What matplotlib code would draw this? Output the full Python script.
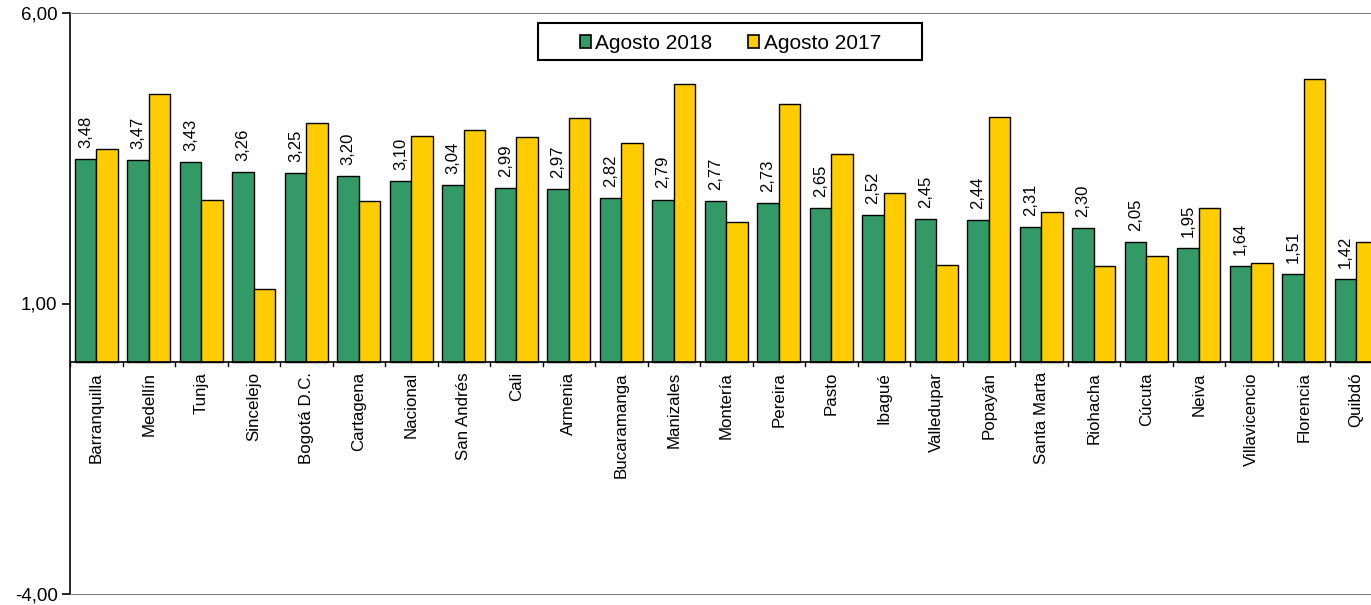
import matplotlib
matplotlib.use("Agg")
import matplotlib.pyplot as plt
from matplotlib.patches import Rectangle
import numpy as np

plt.rcParams['font.family'] = ['Liberation Sans', 'DejaVu Sans']

cities = ["Barranquilla", "Medellín", "Tunja", "Sincelejo", "Bogotá D.C.", "Cartagena",
          "Nacional", "San Andrés", "Cali", "Armenia", "Bucaramanga", "Manizales",
          "Montería", "Pereira", "Pasto", "Ibagué", "Valledupar", "Popayán",
          "Santa Marta", "Riohacha", "Cúcuta", "Neiva", "Villavicencio", "Florencia", "Quibdó"]
ago_2018 = [3.48, 3.47, 3.43, 3.26, 3.25, 3.20, 3.10, 3.04, 2.99, 2.97, 2.82, 2.79,
            2.77, 2.73, 2.65, 2.52, 2.45, 2.44, 2.31, 2.30, 2.05, 1.95, 1.64, 1.51, 1.42]
ago_2017 = [3.66, 4.60, 2.79, 1.25, 4.10, 2.76, 3.88, 3.99, 3.86, 4.19, 3.76, 4.78,
            2.40, 4.44, 3.57, 2.90, 1.67, 4.21, 2.57, 1.64, 1.81, 2.65, 1.69, 4.86, 2.06]
series_names = ["Agosto 2018", "Agosto 2017"]
yticks = [-4, 1, 6]

GREEN = "#339966"
YELLOW = "#FFCC00"

W, H = 1371, 605
fig = plt.figure(figsize=(W/100, H/100), dpi=100)
left_px, right_px, top_px, bot_px = 70, 1382.5, 13, 594
ax = fig.add_axes([left_px/W, 1 - bot_px/H, (right_px-left_px)/W, (bot_px-top_px)/H])

x = np.arange(len(cities))
bw = 0.41
b1 = ax.bar(x - bw/2, ago_2018, bw, color=GREEN, edgecolor="black", linewidth=1.0,
            label=series_names[0], zorder=3)
b2 = ax.bar(x + bw/2, ago_2017, bw, color=YELLOW, edgecolor="black", linewidth=1.0,
            label=series_names[1], zorder=3)

for xi, v in zip(x, ago_2018):
    ax.annotate(f"{v:.2f}".replace(".", ","), xy=(xi - bw/2, v), xytext=(0, 8),
                textcoords="offset points", rotation=90, ha="center", va="bottom",
                fontsize=12, zorder=4)

ax.set_xlim(-0.5, len(cities) - 0.5)
ax.set_ylim(-4, 6)

# spines
ax.spines['top'].set_color("#808080")
ax.spines['bottom'].set_color("#808080")
ax.spines['right'].set_visible(False)
ax.spines['left'].set_color("black")
ax.spines['left'].set_linewidth(1.2)
ax.axhline(0, color="black", linewidth=1.2, zorder=5)

# y ticks
ax.set_yticks(yticks)
ax.set_yticklabels([f"{v:.2f}".replace(".", ",") for v in yticks], fontsize=13.5)
ax.tick_params(axis='y', direction='out', length=6, width=1.2, pad=3)

# x: no bottom ticks; draw category labels and boundary ticks at zero
ax.set_xticks([])
for k in range(len(cities) + 1):
    ax.plot([k - 0.5, k - 0.5], [0, -0.08], color="black", linewidth=1, clip_on=False, zorder=5)
for xi, name in zip(x, cities):
    ax.text(xi, -0.18, name, rotation=90, ha="center", va="top", fontsize=12.2)

# legend
leg = ax.legend(handles=[b1, b2], loc="center", bbox_to_anchor=(0.503, 0.948), ncol=2,
                frameon=False, fontsize=15, handlelength=0.55, handleheight=0.55,
                handletextpad=0.2, columnspacing=1.7, borderaxespad=0)
for h in leg.legend_handles:
    h.set_linewidth(1.2)
lx0 = (538 - left_px) / (right_px - left_px)
lx1 = (922 - left_px) / (right_px - left_px)
ly0 = (bot_px - 60) / (bot_px - top_px)
ly1 = (bot_px - 23) / (bot_px - top_px)
ax.add_patch(Rectangle((lx0, ly0), lx1 - lx0, ly1 - ly0, transform=ax.transAxes,
                       fill=True, facecolor="white", edgecolor="black", linewidth=1.5, zorder=6))
leg.set_zorder(7)

fig.savefig("out.png", dpi=100)
